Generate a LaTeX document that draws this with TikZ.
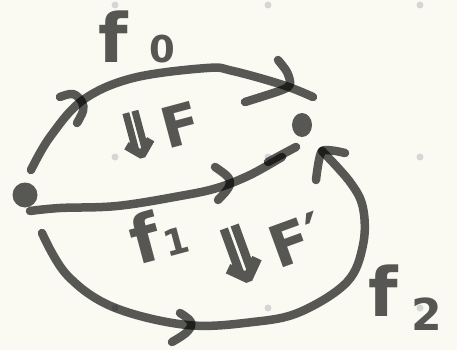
\documentclass[tikz,border=0pt]{standalone}
\usepackage{fontspec}
\setmainfont{DejaVu Sans}
\newfontfamily\arrowfont[FakeBold=3.5]{DejaVu Sans}
\usetikzlibrary{shapes.geometric}
\definecolor{paper}{RGB}{250,250,242}
\definecolor{griddot}{RGB}{214,214,214}
\definecolor{inktext}{RGB}{86,86,82}
\begin{document}
\begin{tikzpicture}[x=1pt,y=-1pt,
  ink/.style={draw=black, draw opacity=0.65, line width=8.5pt, line cap=round, line join=round},
  blob/.style={fill=black, fill opacity=0.65, draw=none, inner sep=0pt},
  lbl/.style={text=inktext, inner sep=0pt, font=\bfseries}]
\fill[paper] (0,0) rectangle (457,350);
\useasboundingbox (0,0) rectangle (457,350);
% grid dots
\foreach \gx in {115,268,420}
  \foreach \gy in {5,157,308}
    \fill[griddot] (\gx,\gy) circle (3.5pt);
% points
\node[blob, circle, minimum size=25pt] (A) at (25,195) {};
\node[blob, ellipse, minimum width=20pt, minimum height=24pt] (B) at (302,125) {};
% f0 (top curve)
\draw[ink] plot[smooth, tension=0.6] coordinates {(31,170) (50,137) (83,100) (133,78) (207,68) (233,71) (283,85) (313,97)};
\draw[ink] plot[smooth, tension=0.6] coordinates {(60,97) (73,94) (82,102) (83,111) (77,123)};
\draw[ink] plot[smooth, tension=0.5] coordinates {(278,60) (287,72) (290,84) (282,90) (245,102)};
% f1 (middle curve)
\draw[ink] plot[smooth, tension=0.6] coordinates {(30,211) (60,208) (117,206) (180,196) (217,188) (250,175) (282,157)};
\draw[ink] (268,162) -- (296,147);
\draw[ink] plot[smooth, tension=0.6] coordinates {(215,167) (227,176) (230,183) (227,190) (218,200)};
% f2 (bottom curve)
\draw[ink] plot[smooth, tension=0.6] coordinates {(42,233) (67,275) (113,307) (187,325) (253,322) (300,312) (347,282) (363,245) (363,208) (350,182) (322,151)};
\draw[ink] plot[smooth, tension=0.4] coordinates {(316,180) (322,151) (345,153)};
\draw[ink] plot[smooth, tension=0.6] coordinates {(180,313) (191,322) (187,332) (172,342)};
% labels
\node[lbl, anchor=base west] (f0) at (98,63) {\fontsize{68}{68}\selectfont f\hspace{22pt}\fontsize{37}{37}\selectfont 0};
\node[lbl, rotate=15] (F) at (155,130) {{\arrowfont\fontsize{62}{62}\selectfont ⇓}\fontsize{56}{56}\selectfont F};
\node[lbl, rotate=15, anchor=base west] (f1) at (137,266) {\fontsize{66}{66}\selectfont f\hspace{3pt}\fontsize{36}{36}\selectfont 1};
\node[lbl, rotate=20] (Fp) at (265,245) {{\arrowfont\fontsize{76}{76}\selectfont ⇓}\fontsize{58}{58}\selectfont F′};
\node[lbl, anchor=base west] (f2) at (368,316) {\fontsize{68}{68}\selectfont f\hspace{14pt}\raisebox{-14pt}{\fontsize{44}{44}\selectfont 2}};
\end{tikzpicture}
\end{document}
